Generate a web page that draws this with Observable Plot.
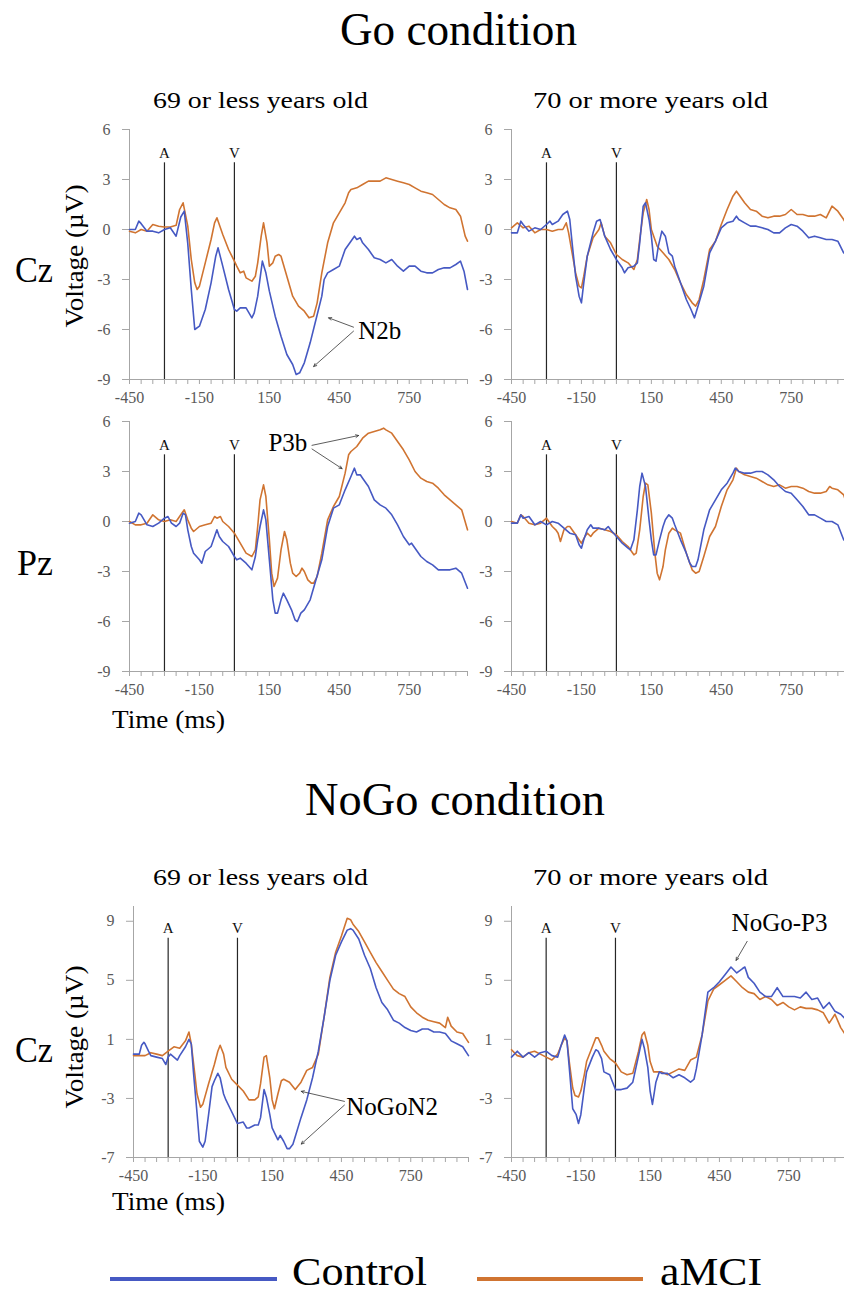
<!DOCTYPE html>
<html>
<head>
<meta charset="utf-8">
<script src="https://cdn.jsdelivr.net/npm/d3@7"></script>
<script src="https://cdn.jsdelivr.net/npm/@observablehq/plot@0.6"></script>
<style>
  html, body { margin: 0; padding: 0; background: #fff; overflow: hidden; }
  #root { position: relative; width: 844px; height: 1296px; overflow: hidden; background: #fff; }
  #root > svg { position: absolute; }
</style>
</head>
<body>
<div id="root"></div>
<script>
// ---------------- DATA ----------------
const seriesNames = ["Control", "aMCI"];
const xTickLabels = [-450, -150, 150, 450, 750];
const goYTicks = [6, 3, 0, -3, -6, -9];
const nogoYTicks = [9, 5, 1, -3, -7];
const events = [{t: -300, label: "A"}, {t: 0, label: "V"}];

// Go condition, Cz, 69 or less
const goCzYoungCtrl = [[-450,0],[-425,0],[-410,0.5],[-400,0.35],[-375,-0.1],[-350,-0.1],[-325,-0.2],[-300,0],[-275,0.1],[-250,-0.4],[-230,0.75],[-215,1.1],[-200,-0.85],[-185,-3.6],[-170,-6.0],[-150,-5.8],[-125,-4.8],[-100,-3.2],[-80,-1.6],[-70,-1.1],[-50,-2.2],[-25,-3.6],[0,-4.8],[10,-4.9],[25,-4.7],[50,-4.7],[75,-5.3],[85,-5.0],[100,-4.0],[120,-1.9],[135,-2.6],[150,-3.7],[175,-5.2],[200,-6.4],[225,-7.5],[250,-8.1],[265,-8.7],[280,-8.6],[300,-8.0],[325,-6.8],[350,-5.4],[375,-4.0],[385,-3.0],[400,-2.6],[425,-2.4],[450,-2.2],[475,-1.2],[500,-0.7],[515,-0.4],[525,-0.6],[540,-0.5],[550,-0.8],[575,-1.2],[600,-1.7],[625,-1.8],[650,-2.0],[675,-1.8],[700,-2.2],[725,-2.5],[750,-2.2],[775,-2.2],[800,-2.5],[825,-2.6],[850,-2.6],[875,-2.4],[900,-2.3],[925,-2.3],[950,-2.1],[970,-1.9],[985,-2.5],[1000,-3.6]];
const goCzYoungMci = [[-450,-0.1],[-425,-0.2],[-400,0],[-375,-0.1],[-350,0.3],[-325,0.2],[-300,0.15],[-275,0.15],[-250,0.25],[-235,1.2],[-220,1.6],[-200,0.2],[-185,-1.8],[-170,-3.2],[-160,-3.6],[-150,-3.4],[-125,-2.0],[-100,-0.6],[-85,0.4],[-75,0.7],[-50,-0.3],[-25,-1.2],[0,-1.9],[10,-2.2],[25,-2.6],[40,-2.5],[50,-2.9],[75,-3.1],[90,-2.8],[100,-2.0],[115,-0.4],[125,0.4],[140,-0.8],[150,-2.2],[165,-2.0],[175,-1.6],[190,-1.5],[200,-1.6],[225,-2.8],[250,-4.0],[275,-4.6],[300,-4.9],[320,-5.3],[340,-5.2],[355,-4.4],[375,-2.6],[400,-0.8],[425,0.4],[450,1.0],[475,1.6],[490,2.2],[500,2.4],[525,2.5],[550,2.7],[575,2.9],[600,2.9],[625,2.9],[650,3.1],[675,3.0],[700,2.9],[725,2.8],[750,2.7],[775,2.5],[800,2.3],[825,2.2],[850,2.1],[875,1.8],[900,1.5],[925,1.3],[950,1.2],[970,0.8],[990,-0.4],[1000,-0.7]];

// Go condition, Cz, 70 or more
const goCzOldCtrl = [[-450,-0.2],[-425,-0.2],[-410,0.5],[-400,0.3],[-375,-0.1],[-350,0.1],[-325,0],[-300,0.3],[-285,0.5],[-275,0.3],[-250,0.5],[-230,0.9],[-210,1.1],[-200,0.6],[-190,-0.8],[-175,-2.8],[-160,-4.0],[-150,-4.4],[-140,-3.2],[-125,-1.6],[-100,-0.2],[-85,0.5],[-70,0.6],[-50,-0.4],[-25,-1.2],[0,-1.8],[25,-2.3],[35,-2.6],[50,-2.3],[75,-2.2],[90,-2.0],[100,-0.8],[115,1.4],[125,1.6],[140,0.6],[150,-0.4],[160,-1.8],[170,-1.9],[180,-1.0],[195,-0.1],[210,-0.4],[225,-1.4],[240,-1.6],[250,-2.2],[275,-3.2],[300,-4.2],[320,-4.8],[335,-5.3],[350,-4.6],[375,-3.4],[400,-1.4],[425,-0.7],[450,0.1],[475,0.4],[500,0.5],[515,0.8],[525,0.6],[550,0.4],[575,0.2],[600,0.2],[625,0.1],[650,0],[675,-0.2],[700,-0.2],[725,0.1],[750,0.3],[775,0.2],[800,-0.1],[825,-0.5],[850,-0.4],[875,-0.5],[900,-0.6],[925,-0.6],[950,-0.7],[975,-1.4],[1000,-1.6]];
const goCzOldMci = [[-450,0.1],[-425,0.4],[-400,0.1],[-375,0.2],[-350,-0.2],[-325,0],[-300,0],[-275,-0.1],[-250,0],[-230,0],[-215,0.4],[-205,-0.2],[-190,-1.4],[-175,-2.6],[-160,-3.4],[-150,-3.5],[-140,-2.8],[-125,-1.6],[-100,-0.5],[-75,0],[-65,0.4],[-50,-0.4],[-25,-0.8],[0,-1.5],[25,-1.8],[50,-2.0],[75,-2.4],[90,-1.8],[100,-0.6],[115,1.0],[130,1.8],[140,1.2],[150,0],[175,-1.0],[200,-1.4],[225,-1.8],[250,-2.4],[275,-3.2],[300,-3.9],[325,-4.4],[340,-4.6],[355,-4.2],[375,-3.0],[400,-1.2],[425,-0.7],[450,0.3],[475,1.2],[500,2.0],[515,2.3],[525,2.1],[550,1.6],[575,1.2],[600,1.1],[625,0.8],[650,0.7],[675,0.8],[700,0.8],[725,0.9],[750,1.2],[775,0.9],[800,0.9],[825,0.8],[850,0.8],[875,0.9],[900,0.7],[925,1.4],[950,1.1],[975,0.6],[1000,0]];

// Go condition, Pz, 69 or less
const goPzYoungCtrl = [[-450,-0.1],[-425,0],[-410,0.5],[-400,0.4],[-375,-0.2],[-350,-0.3],[-325,-0.1],[-300,0.2],[-285,0.3],[-270,-0.1],[-250,-0.3],[-235,-0.1],[-220,0.5],[-210,0.4],[-200,-0.5],[-185,-1.5],[-175,-1.9],[-150,-2.3],[-140,-2.5],[-125,-1.8],[-100,-1.5],[-85,-0.9],[-75,-0.5],[-65,-0.9],[-50,-1.2],[-25,-1.5],[0,-2.1],[10,-2.3],[25,-2.2],[50,-2.5],[75,-2.9],[90,-2.1],[100,-1.1],[110,-0.3],[125,0.7],[135,0.1],[150,-2.3],[165,-4.7],[175,-5.5],[185,-5.5],[200,-4.7],[210,-4.3],[225,-4.7],[245,-5.3],[260,-5.9],[270,-6.0],[285,-5.5],[300,-5.3],[325,-4.7],[350,-3.5],[375,-2.3],[400,-0.3],[425,0.8],[450,1.0],[475,1.9],[500,2.7],[515,3.2],[525,2.8],[540,2.8],[550,2.6],[575,2.1],[600,1.3],[625,1.0],[650,0.8],[675,0.4],[700,-0.2],[725,-0.9],[750,-1.4],[760,-1.3],[775,-1.6],[800,-2.1],[825,-2.4],[850,-2.6],[875,-2.9],[900,-2.9],[925,-2.9],[950,-2.8],[975,-3.1],[1000,-4.0]];
const goPzYoungMci = [[-450,0],[-425,-0.2],[-400,-0.2],[-375,-0.1],[-350,0.4],[-325,0.1],[-300,0],[-275,0.1],[-250,0],[-230,0.4],[-215,0.7],[-200,0.1],[-185,-0.4],[-175,-0.6],[-150,-0.3],[-125,-0.2],[-100,-0.1],[-85,0.3],[-75,0.2],[-60,0.3],[-50,0],[-25,-0.3],[0,-0.7],[25,-1.3],[50,-1.9],[75,-2.1],[90,-1.7],[100,-0.3],[110,1.3],[125,2.2],[135,1.5],[150,-1.1],[160,-3.1],[170,-3.9],[185,-3.4],[200,-1.7],[215,-0.6],[225,-1.1],[240,-2.5],[250,-3.1],[265,-3.3],[280,-3.1],[290,-2.8],[300,-3.0],[315,-3.5],[330,-3.7],[340,-3.7],[355,-3.3],[375,-1.9],[400,0.1],[425,0.9],[450,1.5],[475,2.9],[490,4.0],[500,4.2],[525,4.5],[550,5.0],[575,5.3],[600,5.4],[625,5.5],[640,5.6],[650,5.5],[675,5.3],[700,4.8],[725,4.3],[750,3.7],[775,3.0],[800,2.6],[825,2.4],[850,2.3],[875,2.0],[900,1.6],[925,1.3],[950,1.0],[975,0.7],[1000,-0.5]];

// Go condition, Pz, 70 or more
const goPzOldCtrl = [[-450,-0.1],[-425,-0.1],[-410,0.4],[-400,0.2],[-375,0.3],[-350,-0.2],[-325,0],[-300,-0.2],[-275,0],[-250,-0.1],[-225,-0.4],[-200,-0.7],[-175,-0.8],[-160,-1.4],[-150,-1.6],[-140,-1.1],[-125,-0.5],[-110,-0.2],[-100,-0.4],[-75,-0.4],[-50,-0.5],[-35,-0.3],[-25,-0.5],[0,-0.9],[25,-1.3],[50,-1.6],[60,-1.7],[75,-1.1],[90,0.7],[100,2.1],[110,2.9],[125,2.1],[140,0.1],[150,-1.1],[160,-2.0],[170,-2.0],[185,-1.1],[200,-0.3],[210,0.1],[225,0.4],[240,0.2],[250,-0.2],[275,-1.1],[300,-1.9],[315,-2.5],[325,-2.7],[340,-2.7],[350,-2.3],[375,-0.5],[400,0.7],[425,1.3],[450,1.9],[475,2.3],[500,2.9],[510,3.2],[525,3.0],[550,2.9],[575,2.9],[600,3.0],[625,3.0],[650,2.8],[675,2.5],[700,2.1],[725,1.8],[750,1.7],[775,1.3],[800,0.9],[825,0.4],[850,0.4],[875,0.2],[900,0],[925,0],[950,-0.2],[975,-1.1],[1000,-1.3]];
const goPzOldMci = [[-450,0],[-425,-0.1],[-410,0.4],[-400,0.3],[-375,-0.1],[-350,-0.2],[-325,-0.1],[-300,0.2],[-275,-0.3],[-260,-0.5],[-250,-0.7],[-240,-1.2],[-225,-0.5],[-210,-0.3],[-200,-0.3],[-175,-0.8],[-150,-1.3],[-135,-0.9],[-125,-0.7],[-110,-0.9],[-100,-0.7],[-75,-0.4],[-50,-0.5],[-25,-0.6],[0,-0.8],[25,-1.2],[50,-1.5],[75,-2.0],[85,-1.9],[100,-0.5],[115,1.5],[125,2.3],[135,2.2],[150,0.5],[165,-1.9],[175,-3.1],[185,-3.5],[200,-2.7],[210,-1.7],[225,-0.7],[240,-0.4],[250,-0.5],[275,-0.7],[300,-1.9],[325,-2.9],[340,-3.1],[355,-3.0],[375,-2.1],[400,-0.9],[425,-0.3],[450,0.9],[475,1.9],[500,2.5],[515,3.2],[525,3.0],[550,2.8],[575,2.7],[600,2.6],[625,2.4],[650,2.2],[675,2.1],[700,2.2],[725,2.0],[750,2.1],[775,2.1],[800,2.0],[825,1.8],[850,1.7],[875,1.7],[900,1.8],[915,2.1],[925,2.0],[950,1.9],[975,1.6],[1000,0.5]];

// NoGo condition, Cz, 69 or less
const nogoYoungCtrl = [[-450,0],[-425,0],[-415,0.6],[-405,0.8],[-400,0.7],[-385,0.2],[-375,-0.1],[-350,-0.2],[-325,-0.3],[-310,-0.7],[-300,-0.2],[-290,0],[-275,-0.2],[-260,-0.4],[-250,-0.1],[-225,0.5],[-210,1.0],[-200,0.7],[-190,-1.3],[-175,-4.0],[-165,-5.9],[-150,-6.3],[-140,-5.9],[-125,-4.1],[-110,-2.2],[-100,-1.8],[-85,-1.3],[-75,-1.6],[-60,-2.7],[-50,-3.1],[-25,-3.9],[0,-4.7],[25,-4.6],[40,-5.0],[50,-5.0],[75,-4.8],[90,-4.8],[100,-4.3],[115,-2.4],[125,-2.9],[140,-4.1],[150,-5.0],[175,-5.8],[185,-5.5],[200,-5.9],[215,-6.4],[225,-6.4],[240,-6.1],[250,-5.6],[275,-4.3],[300,-3.1],[325,-1.6],[350,0.2],[375,2.5],[400,5.0],[425,6.7],[450,7.6],[475,8.4],[490,8.5],[500,8.4],[525,7.8],[550,6.7],[575,5.8],[600,4.5],[625,3.5],[650,3.0],[675,2.3],[700,2.1],[725,1.8],[750,1.6],[775,1.5],[800,1.7],[825,1.7],[850,1.5],[875,1.5],[900,1.4],[925,0.9],[950,0.7],[975,0.5],[1000,-0.1]];
const nogoYoungMci = [[-450,-0.1],[-425,-0.1],[-400,-0.1],[-375,0.1],[-350,0],[-325,-0.1],[-300,0.2],[-275,0.5],[-250,0.4],[-225,0.9],[-210,1.5],[-200,0.7],[-185,-1.3],[-175,-2.7],[-160,-3.6],[-150,-3.4],[-125,-2.0],[-100,-0.7],[-85,0.2],[-75,0.6],[-60,0],[-50,-0.9],[-25,-1.7],[0,-2.1],[25,-2.5],[50,-3.1],[75,-3.1],[90,-2.9],[100,-2.0],[115,-0.2],[125,-0.1],[140,-1.6],[150,-3.1],[160,-3.7],[175,-2.7],[190,-1.8],[200,-1.7],[225,-1.9],[250,-2.4],[275,-1.9],[300,-1.1],[325,-0.9],[350,0],[375,2.5],[400,5.2],[425,6.9],[450,8.0],[475,9.2],[490,9.1],[500,8.8],[525,8.3],[550,7.6],[575,6.9],[600,6.2],[625,5.6],[650,5.0],[675,4.4],[700,4.1],[725,3.9],[750,3.2],[775,2.8],[800,2.5],[825,2.3],[850,2.2],[875,2.1],[900,1.8],[910,2.5],[925,1.9],[950,1.5],[975,1.4],[1000,0.8]];

// NoGo condition, Cz, 70 or more
const nogoOldCtrl = [[-450,-0.2],[-425,0.2],[-400,-0.2],[-375,0.1],[-350,-0.2],[-325,0.1],[-300,0.2],[-275,-0.1],[-250,-0.2],[-235,0.6],[-220,1.3],[-210,0.9],[-200,-0.9],[-185,-3.7],[-170,-4.1],[-160,-4.7],[-150,-4.1],[-135,-2.3],[-125,-1.2],[-100,-0.2],[-85,0.3],[-75,0.2],[-60,-0.3],[-50,-1.2],[-25,-1.4],[0,-2.4],[25,-2.4],[50,-2.3],[75,-1.9],[100,-0.1],[115,1.0],[125,0.4],[140,-0.9],[150,-2.5],[160,-3.4],[175,-1.9],[190,-1.2],[200,-1.3],[225,-1.3],[250,-1.6],[275,-1.4],[300,-1.6],[325,-1.9],[340,-1.7],[350,-1.0],[375,1.3],[400,4.2],[425,4.5],[450,4.9],[475,5.4],[500,5.9],[525,5.5],[550,5.8],[560,5.9],[575,5.2],[600,4.8],[625,4.2],[650,3.9],[675,3.9],[700,4.5],[725,3.9],[750,3.9],[775,3.9],[800,3.8],[825,4.2],[850,3.7],[875,3.8],[900,3.1],[925,3.5],[950,2.9],[975,2.7],[1000,2.3]];
const nogoOldMci = [[-450,0.3],[-425,-0.1],[-400,-0.2],[-375,0.1],[-350,0.2],[-325,0],[-300,-0.2],[-275,-0.4],[-250,0],[-235,0.6],[-220,1.1],[-210,0.9],[-200,-0.5],[-185,-2.3],[-175,-2.8],[-160,-2.9],[-150,-2.5],[-135,-1.4],[-125,-0.5],[-100,0.5],[-85,1.1],[-75,1.1],[-60,0.6],[-50,0.2],[-25,-0.3],[0,-0.6],[25,-1.2],[50,-1.4],[75,-1.3],[100,0.2],[115,1.3],[125,1.5],[140,0.6],[150,-0.5],[165,-1.2],[175,-1.2],[200,-1.2],[225,-1.4],[250,-1.2],[275,-1.0],[300,-1.1],[325,-0.4],[350,-0.2],[375,1.3],[400,3.6],[425,4.4],[450,4.7],[475,5.0],[500,5.3],[525,4.9],[550,4.5],[575,4.2],[600,4.1],[625,3.7],[650,3.9],[675,3.7],[700,3.3],[725,3.5],[750,3.2],[775,3.0],[800,3.2],[825,3.1],[850,3.1],[875,3.0],[900,2.8],[925,2.1],[950,2.7],[975,1.8],[1000,1.2]];

// Component annotations (labels and arrow ends, in ms / µV)
const n2bLabel = [{t: 531, v: -6.06, text: "N2b"}];
const n2bArrows = [{t1: 511, v1: -5.86, t2: 404, v2: -5.3}, {t1: 511, v1: -6.1, t2: 340, v2: -8.22}];
const p3bLabel = [{t: 313, v: 4.69, text: "P3b"}];
const p3bArrows = [{t1: 333, v1: 4.57, t2: 533, v2: 5.16}, {t1: 333, v1: 4.35, t2: 462, v2: 3.17}];
const nogoN2Label = [{t: 471, v: -3.6, text: "NoGoN2"}];
const nogoN2Arrows = [{t1: 463, v1: -3.2, t2: 276, v2: -2.52}, {t1: 463, v1: -3.45, t2: 276, v2: -6.09}];
const nogoP3Label = [{t: 710, v: 8.86, text: "NoGo-P3"}];
const nogoP3Arrows = [{t1: 570, v1: 7.64, t2: 522, v2: 6.35}];

// ---------------- FONT PICK ----------------
function hasFont(name) {
  const c = document.createElement("canvas").getContext("2d");
  const s = "mmmmmmmmmmlliiWWgq0123456789";
  return ["monospace", "sans-serif"].some(base => {
    c.font = `72px ${base}`; const w0 = c.measureText(s).width;
    c.font = `72px "${name}", ${base}`; const w1 = c.measureText(s).width;
    return Math.abs(w1 - w0) > 0.5;
  });
}
const serifChoice = ["Liberation Serif", "Tinos", "Times New Roman", "Nimbus Roman", "DejaVu Serif", "Noto Serif"].find(hasFont);
const SERIF = serifChoice ? `"${serifChoice}", serif` : "serif";

// ---------------- STYLE ----------------
const CTRL = "#4659c3";
const MCI = "#d07431";
const AXIS_GRAY = "#a6a6a6";
const LABEL_GRAY = "#595959";

const ML = 50, MR = 5, MT = 10, MB = 35;
const minorTicks = d3.range(-450, 1001, 50);

function panel({ctrl, mci, yDomain, yTicks, lineTop, labels = [], arrows = [], anchor = "start", pw, ph, axisX, yTop}) {
  const marks = [
    Plot.ruleX([-450], {stroke: AXIS_GRAY, strokeWidth: 1}),
    Plot.ruleY([yDomain[0]], {stroke: AXIS_GRAY, strokeWidth: 1}),
    Plot.axisY({ticks: yTicks, tickSize: 7, tickPadding: 12, tickFormat: d => String(d),
      stroke: AXIS_GRAY, fill: LABEL_GRAY, fontSize: 16}),
    Plot.axisX({ticks: minorTicks, tickSize: 5, tickPadding: 7,
      tickFormat: d => xTickLabels.includes(d) ? String(d) : "",
      stroke: AXIS_GRAY, fill: LABEL_GRAY, fontSize: 16}),
    Plot.ruleX(events, {x: "t", y1: yDomain[0], y2: lineTop, stroke: "#262626", strokeWidth: 1.2}),
    Plot.text(events, {x: "t", y: lineTop, text: "label", dy: -5, lineAnchor: "bottom",
      fontSize: 15, fill: "#111", fontFamily: SERIF}),
    Plot.line(mci, {x: d => d[0], y: d => d[1], stroke: MCI, strokeWidth: 1.6}),
    Plot.line(ctrl, {x: d => d[0], y: d => d[1], stroke: CTRL, strokeWidth: 1.6}),
    Plot.arrow(arrows, {x1: "t1", y1: "v1", x2: "t2", y2: "v2", stroke: "#333",
      strokeWidth: 0.8, headLength: 6, headAngle: 50}),
    Plot.text(labels, {x: "t", y: "v", text: "text", textAnchor: anchor, lineAnchor: "middle",
      fontSize: 25, fill: "#000", fontFamily: SERIF})
  ];
  const svg = Plot.plot({
    width: ML + pw + MR, height: MT + ph + MB,
    marginLeft: ML, marginRight: MR, marginTop: MT, marginBottom: MB,
    x: {domain: [-450, 1000]}, y: {domain: yDomain},
    style: {fontFamily: SERIF, background: "transparent", overflow: "visible"},
    marks
  });
  svg.style.left = (axisX - ML) + "px";
  svg.style.top = (yTop - MT) + "px";
  return svg;
}

const root = document.getElementById("root");
const GO = {yDomain: [-9, 6], yTicks: goYTicks, lineTop: 4.0, ph: 250, pw: 338};
const NOGO = {yDomain: [-7, 10], yTicks: nogoYTicks, lineTop: 7.85, ph: 251, pw: 335};

root.appendChild(panel({...GO, ctrl: goCzYoungCtrl, mci: goCzYoungMci, axisX: 129, yTop: 129,
  labels: n2bLabel, arrows: n2bArrows, anchor: "start"}));
root.appendChild(panel({...GO, ctrl: goCzOldCtrl, mci: goCzOldMci, axisX: 511, yTop: 129}));
root.appendChild(panel({...GO, ctrl: goPzYoungCtrl, mci: goPzYoungMci, axisX: 129, yTop: 421,
  labels: p3bLabel, arrows: p3bArrows, anchor: "end"}));
root.appendChild(panel({...GO, ctrl: goPzOldCtrl, mci: goPzOldMci, axisX: 511, yTop: 421}));
root.appendChild(panel({...NOGO, ctrl: nogoYoungCtrl, mci: nogoYoungMci, axisX: 132.5, yTop: 906,
  labels: nogoN2Label, arrows: nogoN2Arrows, anchor: "start"}));
root.appendChild(panel({...NOGO, ctrl: nogoOldCtrl, mci: nogoOldMci, axisX: 511.3, yTop: 906,
  labels: nogoP3Label, arrows: nogoP3Arrows, anchor: "middle"}));

// ---------------- TITLES, LABELS, LEGEND (overlay) ----------------
const NS = "http://www.w3.org/2000/svg";
const ov = document.createElementNS(NS, "svg");
ov.setAttribute("width", 844); ov.setAttribute("height", 1296);
ov.style.left = "0px"; ov.style.top = "0px"; ov.style.pointerEvents = "none";
root.appendChild(ov);
function txt(s, x, y, size, len, opts = {}) {
  const t = document.createElementNS(NS, "text");
  t.textContent = s;
  t.setAttribute("x", x); t.setAttribute("y", y);
  t.setAttribute("font-family", SERIF); t.setAttribute("font-size", size);
  t.setAttribute("fill", opts.fill || "#000");
  if (len) { t.setAttribute("textLength", len); t.setAttribute("lengthAdjust", "spacingAndGlyphs"); }
  if (opts.anchor) t.setAttribute("text-anchor", opts.anchor);
  if (opts.rotate) t.setAttribute("transform", `rotate(-90 ${x} ${y})`);
  ov.appendChild(t);
}
function seg(x1, x2, y, color) {
  const l = document.createElementNS(NS, "line");
  l.setAttribute("x1", x1); l.setAttribute("x2", x2);
  l.setAttribute("y1", y); l.setAttribute("y2", y);
  l.setAttribute("stroke", color); l.setAttribute("stroke-width", 4);
  ov.appendChild(l);
}
txt("Go condition", 340, 45, 46, 237);
txt("69 or less years old", 153, 108, 24, 215);
txt("70 or more years old", 533, 108, 24, 235);
txt("Cz", 15, 282, 36, 38);
txt("Voltage (\u00b5V)", 83, 256, 26, 143, {anchor: "middle", rotate: true});
txt("Pz", 17, 575, 36, 36);
txt("Time (ms)", 112, 728, 26, 113);

txt("NoGo condition", 305, 815, 46, 300);
txt("69 or less years old", 153, 885, 24, 215);
txt("70 or more years old", 533, 885, 24, 235);
txt("Cz", 15, 1062, 36, 38);
txt("Voltage (\u00b5V)", 83, 1037, 26, 143, {anchor: "middle", rotate: true});
txt("Time (ms)", 112, 1210, 26, 113);

seg(110, 277, 1279, CTRL);
txt(seriesNames[0], 292, 1285, 40, 135);
seg(477, 643, 1279, MCI);
txt(seriesNames[1], 660, 1285, 40, 102);
</script>
</body>
</html>
